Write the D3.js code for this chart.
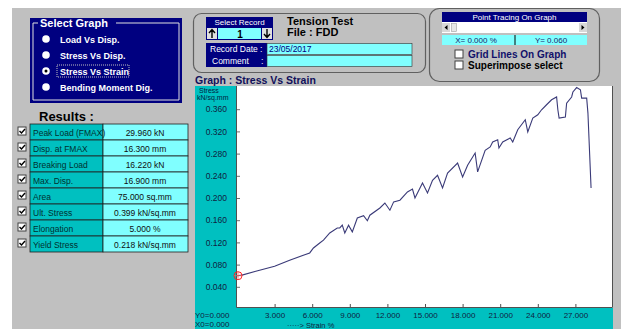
<!DOCTYPE html>
<html>
<head>
<meta charset="utf-8">
<script src="https://cdn.jsdelivr.net/npm/d3@7"></script>
<style>
  body { margin: 0; background: #fff; }
  svg { display: block; font-family: "Liberation Sans", Arial, sans-serif; }
</style>
</head>
<body>
<svg id="chart" width="622" height="329"></svg>
<script>
// curve: strain (%) vs stress (kN/sq.mm)
const strain = [0, 0.4, 1.5, 3.0, 4.2, 5.8, 6.1, 6.6, 6.9, 7.4, 8.0, 8.2, 8.4, 8.6, 8.9, 9.2, 9.6, 10.1, 10.4, 10.6,
  11.4, 11.8, 12.2, 12.5, 13.0, 13.6, 14.0, 14.2, 14.8, 15.2, 15.6, 16.0, 16.4, 16.8, 17.6, 18.0, 18.4, 19.0, 19.2,
  19.8, 20.2, 20.4, 20.8, 20.9, 21.2, 21.8, 22.0, 22.4, 23.0, 23.2, 23.6, 24.0, 24.3, 24.7, 25.1, 25.5, 25.6, 25.7,
  26.2, 26.3, 26.7, 26.8, 27.1, 27.4, 27.5, 27.9, 28.0, 28.25];
const stress = [0.060, 0.061, 0.068, 0.077, 0.088, 0.101, 0.110, 0.119, 0.124, 0.137, 0.146, 0.146, 0.151, 0.137, 0.151, 0.139, 0.164, 0.168, 0.159, 0.169,
  0.182, 0.191, 0.178, 0.193, 0.196, 0.211, 0.216, 0.200, 0.227, 0.209, 0.232, 0.241, 0.218, 0.245, 0.263, 0.238, 0.259, 0.281, 0.247,
  0.286, 0.292, 0.301, 0.305, 0.290, 0.301, 0.308, 0.301, 0.323, 0.341, 0.319, 0.344, 0.350, 0.359, 0.368, 0.377, 0.382, 0.359, 0.344,
  0.346, 0.371, 0.382, 0.391, 0.399, 0.395, 0.380, 0.380, 0.353, 0.218];

const xTicks = [3, 6, 9, 12, 15, 18, 21, 24, 27];
const yTicks = [0.04, 0.08, 0.12, 0.16, 0.2, 0.24, 0.28, 0.32, 0.36];

const graphOptions = ["Load Vs Disp.", "Stress Vs Disp.", "Stress Vs Strain", "Bending Moment Dig."];
const selectedOption = 2;

const resultNames = ["Peak Load (FMAX)", "Disp. at FMAX", "Breaking Load", "Max. Disp.", "Area", "Ult. Stress", "Elongation", "Yield Stress"];
const resultValues = ["29.960  kN", "16.300  mm", "16.220  kN", "16.900  mm", "75.000  sq.mm", "0.399  kN/sq.mm", "5.000  %", "0.218  kN/sq.mm"];

const NAVY = "#000080", TEAL = "#00c0c0", CYAN = "#80ffff", GRAY = "#c0c0c0";

const svg = d3.select("#chart");

// window background
svg.append("rect").attr("x", 12).attr("y", 8).attr("width", 609).attr("height", 321).attr("fill", GRAY);

function checkbox(g, x, y, checked) {
  g.append("rect").attr("x", x).attr("y", y).attr("width", 8).attr("height", 8)
    .attr("fill", "#fff").attr("stroke", "#404040").attr("stroke-width", 1);
  if (checked) {
    g.append("path").attr("d", `M${x + 1.5},${y + 4} l2,2 l3.5,-4`)
      .attr("fill", "none").attr("stroke", "#000").attr("stroke-width", 1.4);
  }
}

// ---- Select Graph group
const sel = svg.append("g");
sel.append("rect").attr("x", 30).attr("y", 18).attr("width", 152).attr("height", 85).attr("fill", NAVY);
sel.append("path").attr("d", "M33,23 V100 H179 V23 H116 M38,23 H33")
  .attr("fill", "none").attr("stroke", "#e0e0e0").attr("stroke-width", 1);
sel.append("text").attr("x", 40).attr("y", 27).attr("fill", "#fff")
  .attr("font-size", 11).attr("font-weight", "bold").text("Select Graph");
graphOptions.forEach((name, i) => {
  const cy = 39 + i * 16;
  sel.append("circle").attr("cx", 46).attr("cy", cy).attr("r", 3.8).attr("fill", "#fff");
  if (i === selectedOption) {
    sel.append("circle").attr("cx", 46).attr("cy", cy).attr("r", 1.5).attr("fill", "#000");
    sel.append("rect").attr("x", 57).attr("y", cy - 6).attr("width", 72).attr("height", 12)
      .attr("fill", "none").attr("stroke", "#c0c0c0").attr("stroke-dasharray", "1,1");
  }
  sel.append("text").attr("x", 60).attr("y", cy + 3.5).attr("fill", "#fff")
    .attr("font-size", 9).attr("font-weight", "bold").text(name);
});

// ---- Results table
svg.append("text").attr("x", 39).attr("y", 121).attr("font-size", 13).attr("font-weight", "bold")
  .attr("fill", "#000").text("Results :");
const res = svg.append("g");
resultNames.forEach((name, i) => {
  const y = 124 + i * 16;
  checkbox(res, 18, y + 3, true);
  res.append("rect").attr("x", 30).attr("y", y).attr("width", 73).attr("height", 16)
    .attr("fill", TEAL).attr("stroke", "#202020").attr("stroke-width", 0.8);
  res.append("rect").attr("x", 103).attr("y", y).attr("width", 85).attr("height", 16)
    .attr("fill", CYAN).attr("stroke", "#202020").attr("stroke-width", 0.8);
  res.append("text").attr("x", 33).attr("y", y + 11.5).attr("font-size", 8.5).attr("fill", "#003030").text(name);
  res.append("text").attr("x", 145).attr("y", y + 11.5).attr("text-anchor", "middle")
    .attr("font-size", 8.5).attr("fill", "#101010").text(resultValues[i]);
});

// ---- Record box
const rec = svg.append("g");
rec.append("rect").attr("x", 193.5).attr("y", 13.5).attr("width", 232).attr("height", 59).attr("rx", 8)
  .attr("fill", "none").attr("stroke", "#606060").attr("stroke-width", 1.2);
rec.append("rect").attr("x", 206).attr("y", 17).attr("width", 67).attr("height", 10).attr("fill", NAVY);
rec.append("text").attr("x", 239.5).attr("y", 25).attr("text-anchor", "middle").attr("font-size", 8)
  .attr("fill", "#fff").text("Select Record");
rec.append("rect").attr("x", 206).attr("y", 27).attr("width", 67).attr("height", 13).attr("fill", NAVY);
rec.append("rect").attr("x", 207).attr("y", 28).attr("width", 10).attr("height", 11).attr("fill", "#e0e0e0");
rec.append("rect").attr("x", 262).attr("y", 28).attr("width", 10).attr("height", 11).attr("fill", "#e0e0e0");
rec.append("rect").attr("x", 218).attr("y", 28).attr("width", 43).attr("height", 11).attr("fill", CYAN);
rec.append("path").attr("d", "M212,38 V30 M209,33 L212,29.5 L215,33 M267,29 V37 M264,34 L267,37.5 L270,34")
  .attr("fill", "none").attr("stroke", "#000").attr("stroke-width", 1.4);
rec.append("text").attr("x", 240).attr("y", 37.5).attr("text-anchor", "middle").attr("font-size", 10)
  .attr("font-weight", "bold").text("1");
rec.append("text").attr("x", 287).attr("y", 25).attr("font-size", 11).attr("font-weight", "bold").text("Tension Test");
rec.append("text").attr("x", 287).attr("y", 36).attr("font-size", 11).attr("font-weight", "bold").text("File : FDD");
rec.append("rect").attr("x", 206).attr("y", 43).attr("width", 61).attr("height", 24).attr("fill", NAVY);
rec.append("rect").attr("x", 267).attr("y", 43.5).attr("width", 145).attr("height", 11).attr("fill", CYAN)
  .attr("stroke", "#303030").attr("stroke-width", 0.6);
rec.append("rect").attr("x", 267).attr("y", 55.5).attr("width", 145).attr("height", 11).attr("fill", CYAN)
  .attr("stroke", "#303030").attr("stroke-width", 0.6);
rec.append("text").attr("x", 210).attr("y", 52).attr("font-size", 8.5).attr("fill", "#fff").text("Record Date :");
rec.append("text").attr("x", 212).attr("y", 64).attr("font-size", 8.5).attr("fill", "#fff").text("Comment");
rec.append("text").attr("x", 261).attr("y", 64).attr("font-size", 8.5).attr("fill", "#fff").text(":");
rec.append("text").attr("x", 269).attr("y", 52).attr("font-size", 8.5).attr("fill", NAVY).text("23/05/2017");

// ---- Point tracing box
const pt = svg.append("g");
pt.append("rect").attr("x", 429.5).attr("y", 8.5).attr("width", 170).attr("height", 73).attr("rx", 10)
  .attr("fill", "none").attr("stroke", "#606060").attr("stroke-width", 1.2);
pt.append("rect").attr("x", 442).attr("y", 12).attr("width", 145).attr("height", 10).attr("fill", NAVY);
pt.append("text").attr("x", 514.5).attr("y", 20).attr("text-anchor", "middle").attr("font-size", 8)
  .attr("fill", "#fff").text("Point Tracing On Graph");
pt.append("rect").attr("x", 442).attr("y", 22).attr("width", 145).attr("height", 11).attr("fill", "#fff");
pt.append("rect").attr("x", 442).attr("y", 23).attr("width", 8).attr("height", 9).attr("fill", "#d8d8d8");
pt.append("rect").attr("x", 579).attr("y", 23).attr("width", 8).attr("height", 9).attr("fill", "#d8d8d8");
pt.append("rect").attr("x", 451.5).attr("y", 23.5).attr("width", 5).attr("height", 8).attr("fill", "#e8e8e8")
  .attr("stroke", "#a0a0a0").attr("stroke-width", 0.6);
pt.append("path").attr("d", "M444.5,27.5 l3,-2.5 v5 z M584.5,27.5 l-3,-2.5 v5 z").attr("fill", "#000");
pt.append("rect").attr("x", 442).attr("y", 35).attr("width", 145).attr("height", 10).attr("fill", CYAN);
pt.append("line").attr("x1", 515).attr("x2", 515).attr("y1", 35).attr("y2", 45).attr("stroke", "#000");
pt.append("text").attr("x", 476).attr("y", 43).attr("text-anchor", "middle").attr("font-size", 8)
  .attr("fill", "#1a1a6a").text("X= 0.000   %");
pt.append("text").attr("x", 551).attr("y", 43).attr("text-anchor", "middle").attr("font-size", 8)
  .attr("fill", "#1a1a6a").text("Y= 0.060");
checkbox(pt, 455, 50, false);
checkbox(pt, 455, 61, false);
pt.append("text").attr("x", 468).attr("y", 58).attr("font-size", 10).attr("font-weight", "bold")
  .attr("fill", "#10106a").text("Grid Lines On Graph");
pt.append("text").attr("x", 468).attr("y", 69).attr("font-size", 10).attr("font-weight", "bold")
  .attr("fill", "#000").text("Superimpose select");

// ---- Graph
svg.append("text").attr("x", 195).attr("y", 84).attr("font-size", 10.5).attr("font-weight", "bold")
  .attr("fill", "#10105a").text("Graph :  Stress Vs Strain");

const plotL = 237, plotR = 613, plotT = 86, plotB = 308;
const x = d3.scaleLinear().domain([0, 30]).range([237, 613]);
const y = d3.scaleLinear().domain([0, 0.4]).range([309, 87]);

svg.append("rect").attr("x", 195).attr("y", plotT).attr("width", plotL - 195).attr("height", 329 - plotT).attr("fill", TEAL);
svg.append("rect").attr("x", 195).attr("y", plotB).attr("width", plotR - 195).attr("height", 329 - plotB).attr("fill", TEAL);
svg.append("rect").attr("x", plotL).attr("y", plotT).attr("width", plotR - plotL).attr("height", plotB - plotT)
  .attr("fill", "#fff");
svg.append("path").attr("d", `M${plotL - 0.5},${plotT} V${plotB - 0.5} H${plotR - 0.5} V${plotT}`)
  .attr("fill", "none").attr("stroke", "#505050").attr("stroke-width", 1);

svg.append("text").attr("x", 199).attr("y", 93).attr("font-size", 7).attr("fill", "#002040").text("Stress");
svg.append("text").attr("x", 197).attr("y", 100).attr("font-size", 7).attr("fill", "#002040").text("kN/sq.mm");

const yAxis = svg.append("g").attr("transform", `translate(${plotL},0)`)
  .call(d3.axisRight(y).tickValues(yTicks).tickSize(3).tickFormat(d3.format(".3f")));
yAxis.select(".domain").remove();
yAxis.selectAll(".tick line").attr("stroke", "#707070");
yAxis.selectAll(".tick text").attr("x", -10).attr("text-anchor", "end")
  .attr("font-size", 8.5).attr("font-family", "Liberation Sans, Arial, sans-serif").attr("fill", "#102040");

const xAxis = svg.append("g").attr("transform", `translate(0,${plotB - 1})`)
  .call(d3.axisTop(x).tickValues(xTicks).tickSize(3).tickFormat(d3.format(".3f")));
xAxis.select(".domain").remove();
xAxis.selectAll(".tick line").attr("stroke", "#505050");
xAxis.selectAll(".tick text").attr("y", 11).attr("dy", 0)
  .attr("font-size", 8).attr("font-family", "Liberation Sans, Arial, sans-serif").attr("fill", "#102040");

svg.append("text").attr("x", 195).attr("y", 318).attr("font-size", 8).attr("fill", "#102040").text("Y0=0.000");
svg.append("text").attr("x", 195).attr("y", 327).attr("font-size", 8).attr("fill", "#102040").text("X0=0.000");
svg.append("text").attr("x", 287).attr("y", 328).attr("font-size", 7.5).attr("fill", "#102040")
  .text("·····>  Strain   %");

const points = strain.map((s, i) => [s, stress[i]]);
svg.append("path").datum(points)
  .attr("d", d3.line().x(d => x(d[0])).y(d => y(d[1])))
  .attr("fill", "none").attr("stroke", "#3a3a78").attr("stroke-width", 1.1);

// trace marker at the first point
const mx = x(strain[0]) + 1, my = y(stress[0]);
svg.append("circle").attr("cx", mx).attr("cy", my).attr("r", 4).attr("fill", "none")
  .attr("stroke", "#ff2020").attr("stroke-width", 1);
svg.append("path").attr("d", `M${mx - 4},${my} h8 M${mx},${my - 4} v8`)
  .attr("stroke", "#ff6060").attr("stroke-width", 0.8);
</script>
</body>
</html>
